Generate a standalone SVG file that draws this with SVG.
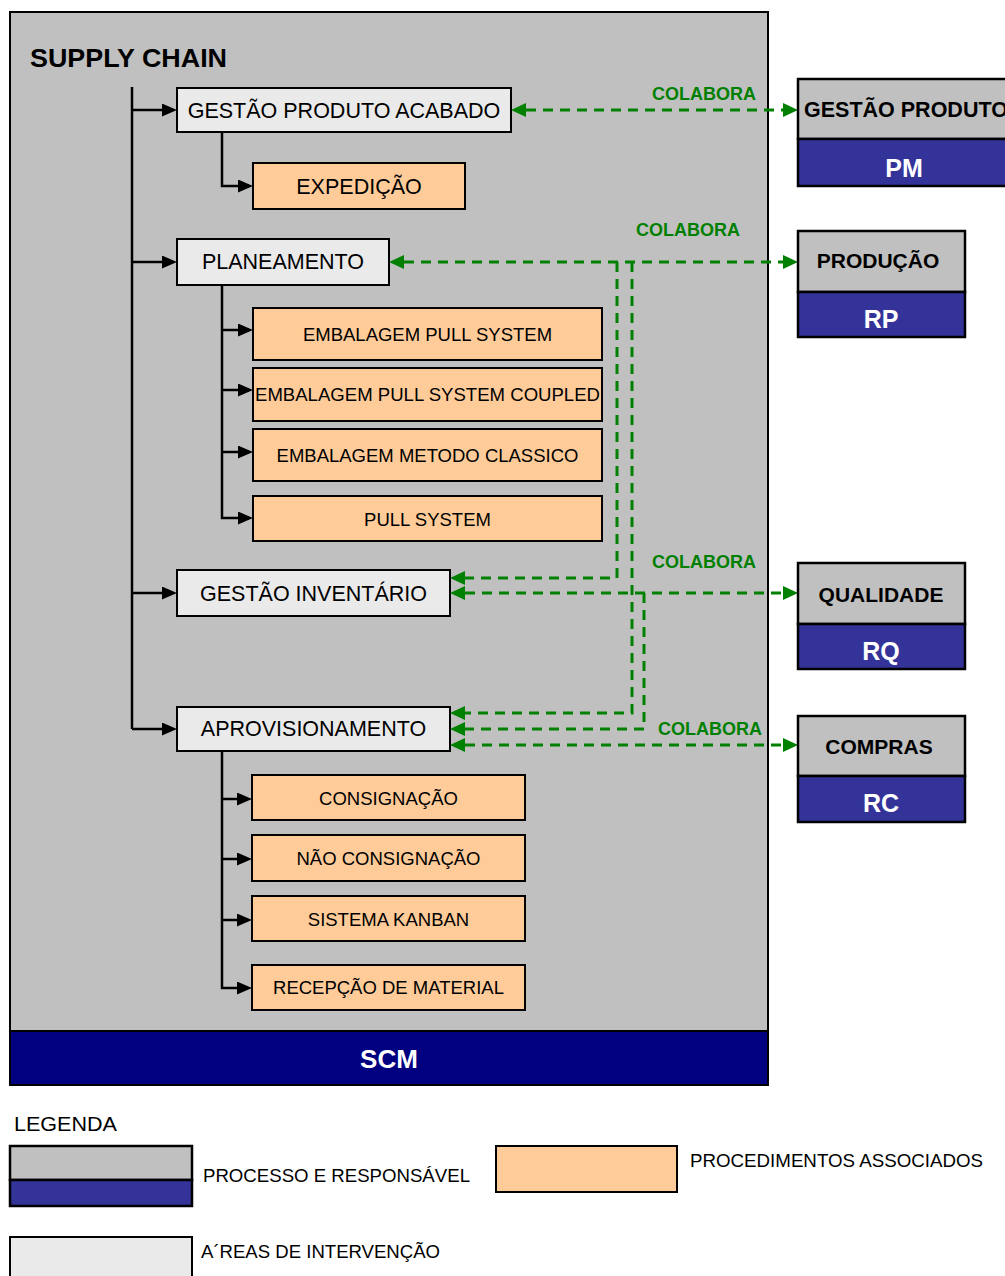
<svg xmlns="http://www.w3.org/2000/svg" width="1005" height="1276" viewBox="0 0 1005 1276">
  <style>
    .t { font-family: "Liberation Sans", Arial, sans-serif; fill: #000; }
    .b { font-weight: bold; }
    .c { text-anchor: middle; }
    .area { fill: #EAEAEA; stroke: #000; stroke-width: 2; }
    .proc { fill: #FFCC99; stroke: #000; stroke-width: 2; }
    .head { fill: #C0C0C0; stroke: #000; stroke-width: 2.5; }
    .resp { fill: #333399; stroke: #000; stroke-width: 2.5; }
    .wt { fill: #fff; }
    .lbl { fill: #008000; font-weight: bold; font-size: 18px; }
    .tree { fill: none; stroke: #000; stroke-width: 2.5; }
    .collab { fill: none; stroke: #008000; stroke-width: 3; stroke-dasharray: 10 7; }
  </style>
  <defs>
    <marker id="ah" markerWidth="15" markerHeight="13" refX="0" refY="6.5" orient="auto" markerUnits="userSpaceOnUse">
      <path d="M0,0 L15,6.5 L0,13 z" fill="#000"/>
    </marker>
    <marker id="gh" markerWidth="15" markerHeight="14" refX="0" refY="7" orient="auto-start-reverse" markerUnits="userSpaceOnUse">
      <path d="M0,0 L15,7 L0,14 z" fill="#008000"/>
    </marker>
  </defs>

  <rect width="1005" height="1276" fill="#fff"/>

  <!-- process container -->
  <g id="supply-chain">
    <rect x="10" y="12" width="758" height="1073" fill="#C0C0C0" stroke="#000" stroke-width="2"/>
    <rect x="10" y="1031" width="758" height="54" fill="#000080" stroke="#000" stroke-width="2"/>
    <text class="t b" x="30" y="67" font-size="26.5" textLength="197" lengthAdjust="spacingAndGlyphs">SUPPLY CHAIN</text>
    <text class="t b c wt" x="389" y="1068" font-size="26">SCM</text>
  </g>

  <!-- connectors -->
  <g id="connectors">
    <path class="tree" stroke-width="3" d="M132 87 V729"/>
    <path class="tree" marker-end="url(#ah)" d="M132 110 H162"/>
    <path class="tree" marker-end="url(#ah)" d="M132 262 H162"/>
    <path class="tree" marker-end="url(#ah)" d="M132 593 H162"/>
    <path class="tree" marker-end="url(#ah)" d="M132 729 H162"/>

    <path class="tree" marker-end="url(#ah)" d="M222 132 V186 H238"/>

    <path class="tree" marker-end="url(#ah)" d="M222 285 V518 H238"/>
    <path class="tree" marker-end="url(#ah)" d="M222 330 H238"/>
    <path class="tree" marker-end="url(#ah)" d="M222 390 H238"/>
    <path class="tree" marker-end="url(#ah)" d="M222 452 H238"/>

    <path class="tree" marker-end="url(#ah)" d="M222 751 V988 H237"/>
    <path class="tree" marker-end="url(#ah)" d="M222 799 H237"/>
    <path class="tree" marker-end="url(#ah)" d="M222 859 H237"/>
    <path class="tree" marker-end="url(#ah)" d="M222 920 H237"/>

    <path class="collab" marker-start="url(#gh)" marker-end="url(#gh)" d="M526 110 H783"/>
    <path class="collab" marker-start="url(#gh)" marker-end="url(#gh)" d="M404 262 H783"/>
    <path class="collab" marker-end="url(#gh)" d="M617 262 V578 H465"/>
    <path class="collab" marker-end="url(#gh)" d="M632 262 V713 H465"/>
    <path class="collab" marker-start="url(#gh)" marker-end="url(#gh)" d="M465 593 H783"/>
    <path class="collab" marker-end="url(#gh)" d="M644 593 V729 H465"/>
    <path class="collab" marker-start="url(#gh)" marker-end="url(#gh)" d="M465 745 H783"/>

    <text class="t lbl" x="652" y="100">COLABORA</text>
    <text class="t lbl" x="636" y="236">COLABORA</text>
    <text class="t lbl" x="652" y="568">COLABORA</text>
    <text class="t lbl" x="658" y="735">COLABORA</text>
  </g>

  <!-- intervention areas -->
  <g id="gestao-produto-acabado">
    <rect class="area" x="177" y="88" width="334" height="44"/>
    <text class="t c" x="344" y="118" font-size="21.5">GESTÃO PRODUTO ACABADO</text>
  </g>
  <g id="planeamento">
    <rect class="area" x="177" y="239" width="212" height="46"/>
    <text class="t c" x="283" y="269" font-size="21.5">PLANEAMENTO</text>
  </g>
  <g id="gestao-inventario">
    <rect class="area" x="177" y="570" width="273" height="46"/>
    <text class="t c" x="313.5" y="601" font-size="21.5">GESTÃO INVENTÁRIO</text>
  </g>
  <g id="aprovisionamento">
    <rect class="area" x="177" y="707" width="273" height="44"/>
    <text class="t c" x="313.5" y="736" font-size="21.5">APROVISIONAMENTO</text>
  </g>

  <!-- associated procedures -->
  <g id="expedicao">
    <rect class="proc" x="253" y="163" width="212" height="46"/>
    <text class="t c" x="359" y="194" font-size="21.5">EXPEDIÇÃO</text>
  </g>
  <g id="embalagem-pull-system">
    <rect class="proc" x="253" y="308" width="349" height="52"/>
    <text class="t c" x="427.5" y="341" font-size="18.5">EMBALAGEM PULL SYSTEM</text>
  </g>
  <g id="embalagem-pull-system-coupled">
    <rect class="proc" x="253" y="368" width="349" height="53"/>
    <text class="t c" x="427.5" y="401" font-size="18.5" textLength="345" lengthAdjust="spacingAndGlyphs">EMBALAGEM PULL SYSTEM COUPLED</text>
  </g>
  <g id="embalagem-metodo-classico">
    <rect class="proc" x="253" y="429" width="349" height="52"/>
    <text class="t c" x="427.5" y="462" font-size="18.5">EMBALAGEM METODO CLASSICO</text>
  </g>
  <g id="pull-system">
    <rect class="proc" x="253" y="496" width="349" height="45"/>
    <text class="t c" x="427.5" y="526" font-size="18.5">PULL SYSTEM</text>
  </g>
  <g id="consignacao">
    <rect class="proc" x="252" y="775" width="273" height="45"/>
    <text class="t c" x="388.5" y="805" font-size="18.5">CONSIGNAÇÃO</text>
  </g>
  <g id="nao-consignacao">
    <rect class="proc" x="252" y="835" width="273" height="46"/>
    <text class="t c" x="388.5" y="865" font-size="18.5">NÃO CONSIGNAÇÃO</text>
  </g>
  <g id="sistema-kanban">
    <rect class="proc" x="252" y="896" width="273" height="45"/>
    <text class="t c" x="388.5" y="926" font-size="18.5">SISTEMA KANBAN</text>
  </g>
  <g id="recepcao-material">
    <rect class="proc" x="252" y="965" width="273" height="45"/>
    <text class="t c" x="388.5" y="994" font-size="18.5">RECEPÇÃO DE MATERIAL</text>
  </g>

  <!-- collaborating processes -->
  <g id="gestao-produto">
    <rect class="head" x="798" y="79" width="212" height="60"/>
    <rect class="resp" x="798" y="139" width="212" height="47"/>
    <text class="t b" x="804" y="117" font-size="21.5">GESTÃO PRODUTO</text>
    <text class="t b c wt" x="904" y="177" font-size="25">PM</text>
  </g>
  <g id="producao">
    <rect class="head" x="798" y="231" width="167" height="61"/>
    <rect class="resp" x="798" y="292" width="167" height="45"/>
    <text class="t b c" x="878" y="268" font-size="21">PRODUÇÃO</text>
    <text class="t b c wt" x="881" y="328" font-size="25">RP</text>
  </g>
  <g id="qualidade">
    <rect class="head" x="798" y="563" width="167" height="61"/>
    <rect class="resp" x="798" y="624" width="167" height="45"/>
    <text class="t b c" x="881" y="602" font-size="21">QUALIDADE</text>
    <text class="t b c wt" x="881" y="660" font-size="25">RQ</text>
  </g>
  <g id="compras">
    <rect class="head" x="798" y="716" width="167" height="60"/>
    <rect class="resp" x="798" y="776" width="167" height="46"/>
    <text class="t b c" x="879" y="754" font-size="21">COMPRAS</text>
    <text class="t b c wt" x="881" y="812" font-size="25">RC</text>
  </g>

  <!-- legend -->
  <g id="legenda">
    <text class="t" x="14" y="1131" font-size="21" textLength="103" lengthAdjust="spacingAndGlyphs">LEGENDA</text>
    <rect class="head" x="10" y="1146" width="182" height="34" stroke-width="2"/>
    <rect class="resp" x="10" y="1180" width="182" height="26" stroke-width="2"/>
    <text class="t" x="203" y="1182" font-size="18.5" textLength="267" lengthAdjust="spacingAndGlyphs">PROCESSO E RESPONSÁVEL</text>
    <rect class="proc" x="496" y="1146" width="181" height="46"/>
    <text class="t" x="690" y="1167" font-size="18.5" textLength="293" lengthAdjust="spacingAndGlyphs">PROCEDIMENTOS ASSOCIADOS</text>
    <rect class="area" x="10" y="1237" width="182" height="50"/>
    <text class="t" x="201" y="1258" font-size="18.5" textLength="239" lengthAdjust="spacingAndGlyphs">A´REAS DE INTERVENÇÃO</text>
  </g>
</svg>
